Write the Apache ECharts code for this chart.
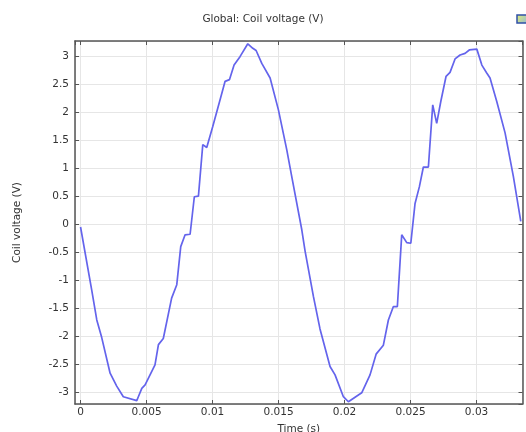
<!DOCTYPE html>
<html>
<head>
<meta charset="utf-8">
<script src="https://cdn.jsdelivr.net/npm/echarts@6/dist/echarts.min.js"></script>
<style>
  html, body { margin: 0; padding: 0; background: #fff; }
  #chart { width: 526px; height: 432px; }
</style>
</head>
<body>
<div id="chart"></div>
<script>
// Time samples (s) and coil voltage (V)
const timeS = [
  0, 0.00085, 0.00123, 0.0016, 0.00224, 0.00274, 0.00324, 0.00426, 0.00438, 0.00464,
  0.00489, 0.00564, 0.0059, 0.00627, 0.0069, 0.00729, 0.00759, 0.00792, 0.0083, 0.00862,
  0.00893, 0.00926, 0.00956, 0.01001, 0.01057, 0.01095, 0.01128, 0.01163, 0.01208, 0.01267,
  0.01305, 0.0133, 0.01373, 0.01436, 0.01499, 0.01562, 0.016, 0.01676, 0.01701, 0.01764,
  0.01814, 0.0189, 0.01928, 0.01991, 0.02029, 0.0213, 0.02193, 0.02239, 0.02294, 0.02332,
  0.0237, 0.024, 0.02433, 0.02471, 0.02502, 0.02534, 0.02567, 0.02597, 0.02635, 0.02668,
  0.02698, 0.02729, 0.02769, 0.02799, 0.02837, 0.02875, 0.02913, 0.02945, 0.03002, 0.0304,
  0.03077, 0.03102, 0.03153, 0.03216, 0.03279, 0.03335
];
const coilVoltage = [
  -0.05, -1.18, -1.71, -2.02, -2.66, -2.89, -3.08, -3.15, -3.08, -2.93,
  -2.87, -2.51, -2.15, -2.04, -1.32, -1.08, -0.40, -0.19, -0.18, 0.49,
  0.50, 1.42, 1.37, 1.74, 2.22, 2.55, 2.58, 2.84, 2.99, 3.22,
  3.14, 3.10, 2.87, 2.61, 2.04, 1.33, 0.85, -0.10, -0.48, -1.29,
  -1.87, -2.54, -2.69, -3.08, -3.17, -3.01, -2.69, -2.32, -2.16, -1.71,
  -1.47, -1.47, -0.19, -0.33, -0.34, 0.37, 0.67, 1.02, 1.02, 2.13,
  1.80, 2.19, 2.64, 2.71, 2.95, 3.02, 3.05, 3.11, 3.125, 2.84,
  2.70, 2.61, 2.19, 1.63, 0.85, 0.05
];

const xRange = [-0.00042, 0.03348];
const yRange = [-3.21, 3.27];

const FONT = 'DejaVu Sans';
const textColor = '#333';
const frameColor = '#555';

const points = timeS.map((t, i) => [t, coilVoltage[i]]);

const chart = echarts.init(document.getElementById('chart'), null, { renderer: 'canvas' });

const labelStyle = { color: textColor, fontFamily: FONT, fontSize: 10.5 };

chart.setOption({
  animation: false,
  backgroundColor: '#fff',
  title: {
    text: 'Global: Coil voltage (V)',
    left: 'center',
    top: 9,
    textStyle: { color: textColor, fontFamily: FONT, fontSize: 10.5, fontWeight: 'normal' }
  },
  grid: { left: 75, top: 41, right: 3.5, bottom: 28, containLabel: false, outerBoundsMode: 'none' },
  xAxis: [
    {
      type: 'value',
      min: xRange[0], max: xRange[1],
      splitNumber: 7,
      name: 'Time (s)',
      nameLocation: 'middle',
      nameGap: 20,
      nameTextStyle: { color: textColor, fontFamily: FONT, fontSize: 10.5 },
      axisLine: { show: true, onZero: false, lineStyle: { color: frameColor, width: 1.5 } },
      axisTick: { show: true, inside: true, length: 4, lineStyle: { color: frameColor } },
      axisLabel: Object.assign({ margin: 3, showMinLabel: false, showMaxLabel: false }, labelStyle),
      splitLine: { show: true, lineStyle: { color: '#e6e6e6', width: 1 } }
    },
    {
      type: 'value',
      position: 'top',
      min: xRange[0], max: xRange[1],
      splitNumber: 7,
      axisLine: { show: true, onZero: false, lineStyle: { color: frameColor, width: 1.5 } },
      axisTick: { show: true, inside: true, length: 4, lineStyle: { color: frameColor } },
      axisLabel: { show: false },
      splitLine: { show: false }
    }
  ],
  yAxis: [
    {
      type: 'value',
      min: yRange[0], max: yRange[1],
      splitNumber: 12,
      name: 'Coil voltage (V)',
      nameLocation: 'middle',
      nameGap: 52,
      nameTextStyle: { color: textColor, fontFamily: FONT, fontSize: 10.5 },
      axisLine: { show: true, onZero: false, lineStyle: { color: frameColor, width: 1.5 } },
      axisTick: { show: true, inside: true, length: 4, lineStyle: { color: frameColor } },
      axisLabel: Object.assign({ margin: 6, showMinLabel: false, showMaxLabel: false }, labelStyle),
      splitLine: { show: true, lineStyle: { color: '#e6e6e6', width: 1 } }
    },
    {
      type: 'value',
      position: 'right',
      min: yRange[0], max: yRange[1],
      splitNumber: 12,
      axisLine: { show: true, onZero: false, lineStyle: { color: frameColor, width: 1.5 } },
      axisTick: { show: true, inside: true, length: 4, lineStyle: { color: frameColor } },
      axisLabel: { show: false },
      splitLine: { show: false }
    }
  ],
  series: [
    {
      type: 'line',
      xAxisIndex: 0,
      yAxisIndex: 0,
      data: points,
      showSymbol: false,
      symbol: 'none',
      smooth: false,
      clip: true,
      lineStyle: { color: '#6464ec', width: 1.7 }
    }
  ],
  graphic: [
    {
      type: 'rect',
      shape: { x: 517, y: 15, width: 10, height: 8 },
      style: {
        fill: new echarts.graphic.LinearGradient(0, 0, 1, 1, [
          { offset: 0, color: '#e8f070' },
          { offset: 1, color: '#8fb8d8' }
        ]),
        stroke: '#3050a8',
        lineWidth: 1.5
      },
      silent: true
    }
  ]
});
</script>
</body>
</html>
